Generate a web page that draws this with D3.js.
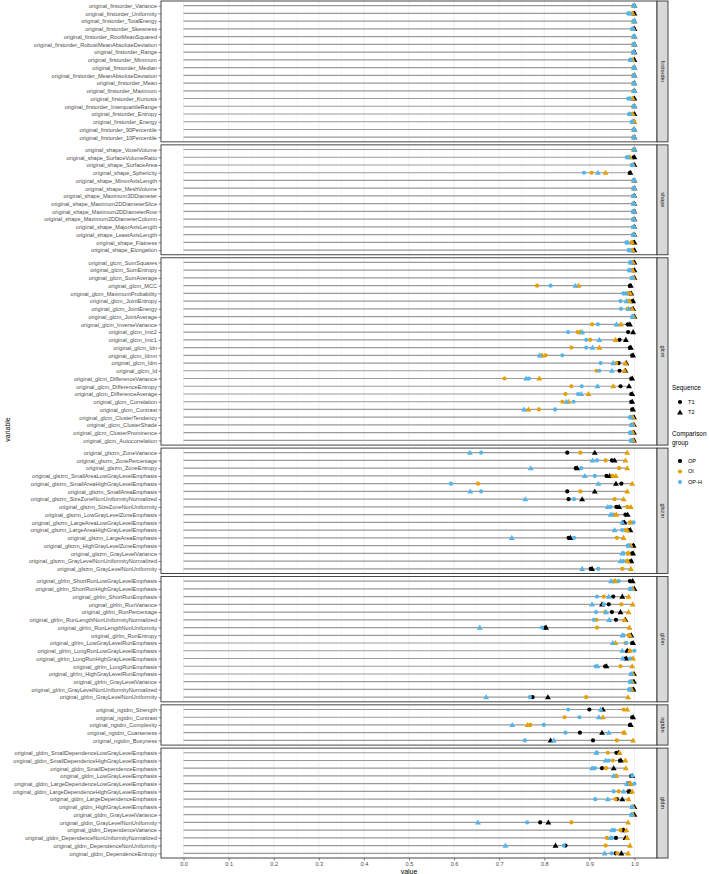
<!DOCTYPE html>
<html><head><meta charset="utf-8">
<script src="https://cdn.jsdelivr.net/npm/d3@7"></script>
<style>body{margin:0;background:#fff}svg{display:block;font-family:"Liberation Sans",Arial,sans-serif}</style>
</head><body><div id="chart"></div>
<script>
// ---- DATA ----
const facets = ["firstorder","shape","glcm","glszm","glrlm","ngtdm","gldm"];
const seriesKeys = ["OP_T1","OP_T2","OI_T1","OI_T2","OPH_T1","OPH_T2"];
const groups = ["OP","OI","OP-H"];
const sequences = ["T1","T2"];
const xTicks = [0,0.1,0.2,0.3,0.4,0.5,0.6,0.7,0.8,0.9,1.0];

// rows listed top to bottom; values: [OP_T1, OP_T2, OI_T1, OI_T2, OPH_T1, OPH_T2]
const firstorderVars = ["Variance","Uniformity","TotalEnergy","Skewness","RootMeanSquared","RobustMeanAbsoluteDeviation","Range","Minimum","Median","MeanAbsoluteDeviation","Mean","Maximum","Kurtosis","InterquartileRange","Entropy","Energy","90Percentile","10Percentile"];
const firstorderVals = [
 [0.999,1.0,0.998,0.999,0.998,1.0],[0.998,1.0,0.995,0.996,0.986,0.99],[0.999,1.0,0.998,0.999,0.998,1.0],[0.999,1.0,0.996,0.997,0.995,0.997],
 [0.999,1.0,0.998,0.999,0.998,1.0],[0.999,1.0,0.998,0.999,0.998,1.0],[0.999,1.0,0.997,0.998,0.997,0.999],[0.998,1.0,0.995,0.996,0.99,0.992],
 [0.999,1.0,0.998,0.999,0.998,1.0],[0.999,1.0,0.998,0.999,0.998,1.0],[0.999,1.0,0.998,0.999,0.998,1.0],[0.999,1.0,0.998,0.999,0.998,1.0],
 [0.998,1.0,0.995,0.996,0.986,0.99],[0.999,1.0,0.998,0.999,0.998,1.0],[0.998,1.0,0.995,0.996,0.988,0.99],[0.998,0.999,0.999,1.0,0.994,0.995],
 [0.999,1.0,0.998,0.999,0.998,1.0],[0.999,1.0,0.998,0.999,0.998,1.0]];
const shapeVars = ["VoxelVolume","SurfaceVolumeRatio","SurfaceArea","Sphericity","MinorAxisLength","MeshVolume","Maximum3DDiameter","Maximum2DDiameterSlice","Maximum2DDiameterRow","Maximum2DDiameterColumn","MajorAxisLength","LeastAxisLength","Flatness","Elongation"];
const shapeVals = [
 [0.999,1.0,0.998,0.999,0.998,1.0],[0.998,1.0,0.988,0.99,0.983,0.986],[0.999,1.0,0.996,0.997,0.994,0.996],[0.99,0.991,0.905,0.936,0.888,0.919],
 [0.999,1.0,0.998,0.999,0.998,1.0],[0.999,1.0,0.998,0.999,0.998,1.0],[0.999,1.0,0.998,0.999,0.997,0.999],[0.999,1.0,0.998,0.999,0.997,0.999],
 [0.999,1.0,0.998,0.999,0.997,0.999],[0.999,1.0,0.998,0.999,0.997,0.999],[0.999,1.0,0.998,0.999,0.997,0.999],[0.999,1.0,0.998,0.999,0.997,0.999],
 [0.998,1.0,0.994,0.995,0.982,0.985],[0.998,1.0,0.995,0.996,0.987,0.99]];
const glcmVars = ["SumSquares","SumEntropy","SumAverage","MCC","MaximumProbability","JointEntropy","JointEnergy","JointAverage","InverseVariance","Imc2","Imc1","Idn","Idmn","Idm","Id","DifferenceVariance","DifferenceEntropy","DifferenceAverage","Correlation","Contrast","ClusterTendency","ClusterShade","ClusterProminence","Autocorrelation"];
const glcmVals = [
 [0.998,1.0,0.995,0.997,0.99,0.992],[0.998,1.0,0.995,0.996,0.988,0.99],[0.999,1.0,0.997,0.998,0.994,0.995],[0.99,0.992,0.784,0.876,0.814,0.869],
 [0.99,0.993,0.985,0.991,0.975,0.981],[0.995,0.997,0.985,0.989,0.969,0.982],[0.995,0.997,0.985,0.995,0.97,0.987],[0.998,1.0,0.997,0.998,0.995,0.996],
 [0.985,0.99,0.906,0.97,0.919,0.96],[0.986,0.997,0.874,0.88,0.853,0.884],[0.967,0.981,0.902,0.958,0.893,0.922],[0.99,0.992,0.86,0.922,0.893,0.907],
 [0.995,0.997,0.803,0.795,0.84,0.79],[0.965,0.982,0.96,0.98,0.925,0.953],[0.967,0.98,0.916,0.978,0.922,0.95],[0.993,0.995,0.712,0.789,0.766,0.76],
 [0.969,0.988,0.86,0.953,0.883,0.918],[0.993,0.995,0.847,0.898,0.875,0.882],[0.993,0.995,0.84,0.854,0.865,0.849],[0.995,0.997,0.788,0.765,0.824,0.755],
 [0.997,0.999,0.995,0.996,0.99,0.992],[0.997,0.999,0.996,0.997,0.993,0.994],[0.997,0.999,0.995,0.996,0.99,0.992],[0.998,0.999,0.996,0.997,0.992,0.993]];
const glszmVars = ["ZoneVariance","ZonePercentage","ZoneEntropy","SmallAreaLowGrayLevelEmphasis","SmallAreaHighGrayLevelEmphasis","SmallAreaEmphasis","SizeZoneNonUniformityNormalized","SizeZoneNonUniformity","LowGrayLevelZoneEmphasis","LargeAreaLowGrayLevelEmphasis","LargeAreaHighGrayLevelEmphasis","LargeAreaEmphasis","HighGrayLevelZoneEmphasis","GrayLevelVariance","GrayLevelNonUniformityNormalized","GrayLevelNonUniformity"];
const glszmVals = [
 [0.851,0.912,0.88,0.984,0.66,0.635],[0.95,0.956,0.936,0.98,0.917,0.907],[0.87,0.873,0.966,0.984,0.882,0.77],[0.938,0.945,0.951,0.959,0.912,0.89],
 [0.971,0.959,0.653,0.995,0.593,0.92],[0.851,0.912,0.88,0.984,0.66,0.636],[0.854,0.884,0.956,0.976,0.866,0.758],[0.96,0.966,0.984,0.992,0.947,0.941],
 [0.98,0.985,0.955,0.96,0.95,0.947],[0.975,0.978,0.99,0.992,0.998,0.973],[0.988,0.991,0.98,0.984,0.973,0.956],[0.854,0.858,0.961,0.976,0.866,0.728],
 [0.997,0.998,0.99,0.992,0.985,0.987],[0.995,0.997,0.985,0.987,0.976,0.973],[0.992,0.993,0.983,0.985,0.975,0.969],[0.903,0.906,0.973,0.992,0.92,0.884]];
const glrlmVars = ["ShortRunLowGrayLevelEmphasis","ShortRunHighGrayLevelEmphasis","ShortRunEmphasis","RunVariance","RunPercentage","RunLengthNonUniformityNormalized","RunLengthNonUniformity","RunEntropy","LowGrayLevelRunEmphasis","LongRunLowGrayLevelEmphasis","LongRunHighGrayLevelEmphasis","LongRunEmphasis","HighGrayLevelRunEmphasis","GrayLevelVariance","GrayLevelNonUniformityNormalized","GrayLevelNonUniformity"];
const glrlmVals = [
 [0.99,0.996,0.955,0.958,0.965,0.948],[0.997,1.0,0.995,0.996,0.99,0.992],[0.953,0.973,0.932,0.987,0.917,0.943],[0.943,0.928,0.971,0.996,0.932,0.906],
 [0.95,0.969,0.935,0.987,0.915,0.937],[0.959,0.98,0.916,0.978,0.91,0.944],[0.802,0.804,0.917,0.989,0.795,0.657],[0.99,0.993,0.987,0.99,0.976,0.973],
 [0.995,0.997,0.98,0.958,0.982,0.952],[0.985,0.984,0.99,0.99,1.0,0.973],[0.98,0.982,0.995,0.997,0.99,0.974],[0.935,0.938,0.969,0.995,0.914,0.918],
 [0.997,0.999,0.995,0.996,0.992,0.993],[0.997,0.999,0.993,0.995,0.99,0.992],[0.996,0.998,0.992,0.994,0.988,0.99],[0.774,0.808,0.893,0.986,0.768,0.671]];
const ngtdmVars = ["Strength","Contrast","Complexity","Coarseness","Busyness"];
const ngtdmVals = [
 [0.9,0.93,0.976,0.984,0.853,0.925],[0.995,0.997,0.845,0.93,0.878,0.921],[0.99,0.992,0.769,0.763,0.799,0.729],[0.879,0.928,0.976,0.978,0.847,0.943],
 [0.908,0.814,0.961,0.997,0.757,0.821]];
const gldmVars = ["SmallDependenceLowGrayLevelEmphasis","SmallDependenceHighGrayLevelEmphasis","SmallDependenceEmphasis","LowGrayLevelEmphasis","LargeDependenceLowGrayLevelEmphasis","LargeDependenceHighGrayLevelEmphasis","LargeDependenceEmphasis","HighGrayLevelEmphasis","GrayLevelVariance","GrayLevelNonUniformity","DependenceVariance","DependenceNonUniformityNormalized","DependenceNonUniformity","DependenceEntropy"];
const gldmVals = [
 [0.96,0.965,0.941,0.967,0.917,0.915],[0.968,0.97,0.952,0.98,0.943,0.936],[0.928,0.954,0.937,0.981,0.912,0.906],[0.993,0.995,0.96,0.959,0.995,0.954],
 [0.985,0.99,0.99,0.992,1.0,0.983],[0.987,0.99,0.965,0.995,0.954,0.976],[0.961,0.973,0.958,0.987,0.913,0.941],[0.997,1.0,0.995,0.997,0.994,0.995],
 [0.997,1.0,0.995,0.996,0.993,0.994],[0.791,0.809,0.86,0.986,0.762,0.653],[0.975,0.976,0.969,0.982,0.955,0.95],[0.959,0.98,0.939,0.984,0.95,0.947],
 [0.847,0.825,0.936,0.99,0.843,0.714],[0.958,0.971,0.962,0.986,0.949,0.934]];

const facetVars = {firstorder:firstorderVars, shape:shapeVars, glcm:glcmVars, glszm:glszmVars, glrlm:glrlmVars, ngtdm:ngtdmVars, gldm:gldmVars};
const facetVals = {firstorder:firstorderVals, shape:shapeVals, glcm:glcmVals, glszm:glszmVals, glrlm:glrlmVals, ngtdm:ngtdmVals, gldm:gldmVals};

// ---- LAYOUT ----
const W = 709, H = 874;
const panelLeft = 161, panelRight = 657, plotTop = 1, plotBottom = 858, gap = 3;
const stripW = 11;
const colors = {"OP":"#000000","OI":"#E69F00","OP-H":"#56B4E9"};
const FONT = "Liberation Sans, Arial, sans-serif";
const AXIS_FS = "5.6px", TITLE_FS = "7px", LEG_TITLE_FS = "6.4px";

const svg = d3.select("#chart").append("svg").attr("width", W).attr("height", H);
const x = d3.scaleLinear().domain([-0.05, 1.05]).range([panelLeft, panelRight]);

const units = facets.map(f => facetVars[f].length - 1 + 1.2);
const totalUnits = d3.sum(units);
const unitPx = (plotBottom - plotTop - gap * (facets.length - 1)) / totalUnits;

let yCursor = plotTop;
const panels = facets.map((f, i) => {
  const h = units[i] * unitPx;
  const p = {facet: f, y0: yCursor, y1: yCursor + h};
  yCursor += h + gap;
  return p;
});

const symTri = d3.symbol().type(d3.symbolTriangle).size(15);

panels.forEach(p => {
  const vars = facetVars[p.facet].map(v => "original_" + p.facet + "_" + v);
  const vals = facetVals[p.facet];
  const y = d3.scalePoint().domain(vars).range([p.y0, p.y1]).padding(0.6);
  const g = svg.append("g");
  g.append("rect").attr("x", panelLeft).attr("y", p.y0).attr("width", panelRight - panelLeft).attr("height", p.y1 - p.y0).attr("fill", "#fff");
  const minor = d3.range(0.05, 1.0, 0.1);
  g.selectAll(".mg").data(minor).join("line").attr("x1", d => x(d)).attr("x2", d => x(d))
    .attr("y1", p.y0).attr("y2", p.y1).attr("stroke", "#f2f2f2").attr("stroke-width", 0.5);
  g.selectAll(".Mg").data(xTicks).join("line").attr("x1", d => x(d)).attr("x2", d => x(d))
    .attr("y1", p.y0).attr("y2", p.y1).attr("stroke", "#ebebeb").attr("stroke-width", 0.8);
  g.selectAll(".seg").data(vars).join("line")
    .attr("x1", x(0)).attr("x2", (d, i) => x(d3.max(vals[i])))
    .attr("y1", d => y(d)).attr("y2", d => y(d))
    .attr("stroke", "#9a9a9a").attr("stroke-width", 1.2);
  [0,1,2,3,4,5].forEach(si => {
    const grp = groups[Math.floor(si / 2)];
    const seq = sequences[si % 2];
    vars.forEach((v, ri) => {
      const val = vals[ri][si];
      if (seq === "T1") {
        g.append("circle").attr("cx", x(val)).attr("cy", y(v)).attr("r", 2.1).attr("fill", colors[grp]);
      } else {
        g.append("path").attr("d", symTri).attr("transform", `translate(${x(val)},${y(v) + 0.4})`).attr("fill", colors[grp]);
      }
    });
  });
  g.append("rect").attr("x", panelLeft).attr("y", p.y0).attr("width", panelRight - panelLeft).attr("height", p.y1 - p.y0)
    .attr("fill", "none").attr("stroke", "#333").attr("stroke-width", 0.9);
  const ay = svg.append("g").attr("transform", `translate(${panelLeft},0)`)
    .call(d3.axisLeft(y).tickSize(2.5).tickPadding(1.5));
  ay.select(".domain").remove();
  ay.selectAll(".tick line").attr("stroke", "#333").attr("stroke-width", 0.6);
  ay.selectAll(".tick text").attr("fill", "#4d4d4d").attr("font-size", AXIS_FS).attr("font-family", FONT);
  svg.append("rect").attr("x", panelRight).attr("y", p.y0).attr("width", stripW).attr("height", p.y1 - p.y0)
    .attr("fill", "#d9d9d9").attr("stroke", "#333").attr("stroke-width", 0.9);
  svg.append("text").attr("transform", `translate(${panelRight + stripW / 2},${(p.y0 + p.y1) / 2}) rotate(90)`)
    .attr("text-anchor", "middle").attr("dy", "0.35em").attr("font-size", AXIS_FS).attr("fill", "#1a1a1a").text(p.facet);
});

const ax = svg.append("g").attr("transform", `translate(0,${panels[panels.length - 1].y1})`)
  .call(d3.axisBottom(x).tickValues(xTicks).tickFormat(d3.format(".1f")).tickSize(2.5).tickPadding(1.5));
ax.select(".domain").remove();
ax.selectAll(".tick line").attr("stroke", "#333").attr("stroke-width", 0.6);
ax.selectAll(".tick text").attr("fill", "#4d4d4d").attr("font-size", AXIS_FS).attr("font-family", FONT);

svg.append("text").attr("x", x(0.5)).attr("y", 873.5).attr("text-anchor", "middle").attr("font-size", TITLE_FS).text("value");
svg.append("text").attr("transform", `translate(9.5,${(plotTop + plotBottom) / 2}) rotate(-90)`).attr("text-anchor", "middle")
  .attr("font-size", TITLE_FS).text("variable");

const lx = 672;
const leg = svg.append("g").attr("font-family", FONT);
leg.append("text").attr("x", lx).attr("y", 390).attr("font-size", LEG_TITLE_FS).text("Sequence");
sequences.forEach((s, i) => {
  const cy = 402 + i * 10.5;
  if (s === "T1") leg.append("circle").attr("cx", lx + 8).attr("cy", cy).attr("r", 2.1).attr("fill", "#000");
  else leg.append("path").attr("d", symTri).attr("transform", `translate(${lx + 8},${cy + 0.4})`).attr("fill", "#000");
  leg.append("text").attr("x", lx + 16).attr("y", cy).attr("dy", "0.35em").attr("font-size", AXIS_FS).text(s);
});
leg.append("text").attr("x", lx).attr("y", 436).attr("font-size", LEG_TITLE_FS).text("Comparison");
leg.append("text").attr("x", lx).attr("y", 444.5).attr("font-size", LEG_TITLE_FS).text("group");
groups.forEach((gname, i) => {
  const cy = 461 + i * 10.5;
  leg.append("circle").attr("cx", lx + 8).attr("cy", cy).attr("r", 2.1).attr("fill", colors[gname]);
  leg.append("text").attr("x", lx + 16).attr("y", cy).attr("dy", "0.35em").attr("font-size", AXIS_FS).text(gname);
});
</script></body></html>
